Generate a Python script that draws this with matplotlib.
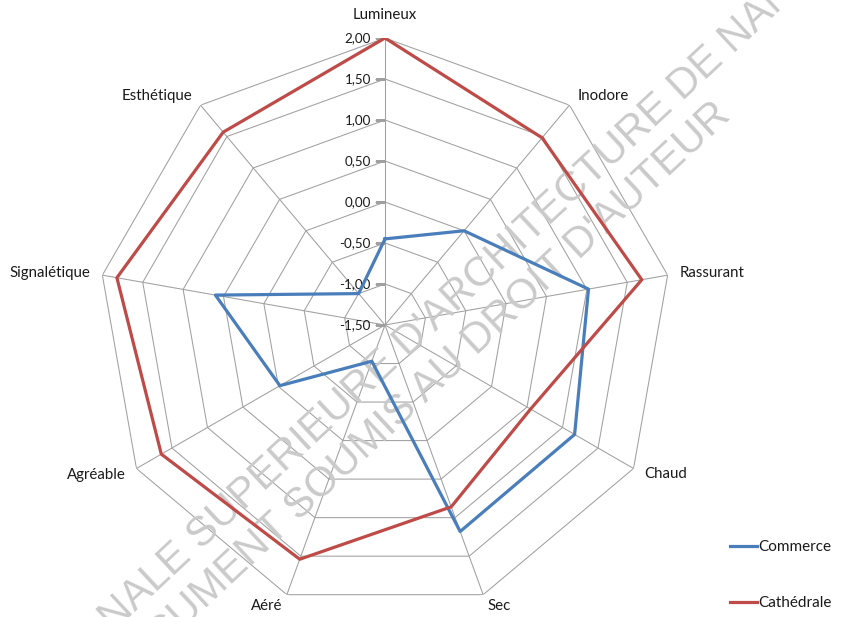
import numpy as np
import matplotlib
matplotlib.use("Agg")
import matplotlib.pyplot as plt
from matplotlib.transforms import offset_copy

# Axes of the radar, clockwise from the top
categories = ["Lumineux", "Inodore", "Rassurant", "Chaud", "Sec",
              "Aéré", "Agréable", "Signalétique", "Esthétique"]
commerce = [-0.45, 0.00, 1.02, 1.17, 1.18, -1.03, -0.02, 0.60, -1.00]
cathedrale = [2.00, 1.48, 1.68, 0.55, 0.86, 1.54, 1.65, 1.82, 1.57]
tick_values = [-1.5, -1.0, -0.5, 0.0, 0.5, 1.0, 1.5, 2.0]
tick_labels = ["-1,50", "-1,00", "-0,50", "0,00", "0,50", "1,00", "1,50", "2,00"]

BLUE = "#4a7ebb"
RED = "#be4b48"
GRID = "#a0a0a0"
TEXT = "#1a1a1a"
FONT = ["Lato", "DejaVu Sans"]

plt.rcParams["font.family"] = FONT

fig = plt.figure(figsize=(8.41, 6.17), dpi=100)
ax = fig.add_axes([98 / 841, 5 / 617, 574 / 841, 574 / 617], projection="polar")
ax.set_theta_zero_location("N")
ax.set_theta_direction(-1)
ax.set_ylim(tick_values[0], tick_values[-1])
ax.axis("off")

n = len(categories)
angles = np.linspace(0, 2 * np.pi, n, endpoint=False)
closed = np.append(angles, angles[0])

# polygon grid + spokes
for level in tick_values[1:]:
    ax.plot(closed, [level] * (n + 1), color=GRID, lw=0.75, zorder=1)
for a in angles:
    ax.plot([a, a], [tick_values[0], tick_values[-1]], color=GRID, lw=0.75, zorder=1)

# value ticks on the vertical axis
ax.plot([0] * len(tick_values), tick_values, ls="none",
        marker=[(-1, 0), (0, 0)], markersize=14, markeredgecolor=GRID,
        markeredgewidth=0.75, zorder=1)
lab_tr = offset_copy(ax.transData, fig=fig, x=-14, y=0, units="dots")
for v, t in zip(tick_values, tick_labels):
    ax.text(0, v, t, transform=lab_tr, ha="right", va="center",
            fontsize=9.6, color=TEXT)

# category labels
for a, name in zip(angles, categories):
    s, c = np.sin(a), np.cos(a)
    if abs(s) < 0.1:
        ha, va, dx, dy = "center", "bottom", 0, 16
    else:
        ha = "left" if s > 0 else "right"
        va, dx, dy = "center", 12 * s, 12 * c
    tr = offset_copy(ax.transData, fig=fig, x=dx, y=dy, units="dots")
    ax.text(a, tick_values[-1], name, transform=tr, ha=ha, va=va,
            fontsize=10.8, color=TEXT)

# series
ax.plot(closed, commerce + commerce[:1], color=BLUE, lw=2.3, label="Commerce", zorder=4)
ax.plot(closed, cathedrale + cathedrale[:1], color=RED, lw=2.3, label="Cathédrale", zorder=4)

# watermark
wm = dict(transform=fig.transFigure, rotation=43, rotation_mode="anchor",
          ha="center", va="center", fontsize=30, color="#cacaca",
          family=["Liberation Sans", "DejaVu Sans"], zorder=2)
ax.text(376 / 841, 1 - 372 / 617, "ECOLE NATIONALE SUPERIEURE D'ARCHITECTURE DE NANTES", **wm)
ax.text(416 / 841, 1 - 397 / 617, "DOCUMENT SOUMIS AU DROIT D'AUTEUR", **wm)

fig.legend(loc="upper left", bbox_to_anchor=(730 / 841, 1 - 540 / 617),
           frameon=False, fontsize=11, handlelength=1.76, handletextpad=0.1,
           labelspacing=2.75, borderpad=0, borderaxespad=0, labelcolor=TEXT)

fig.savefig("out.png", dpi=100, facecolor="white")
